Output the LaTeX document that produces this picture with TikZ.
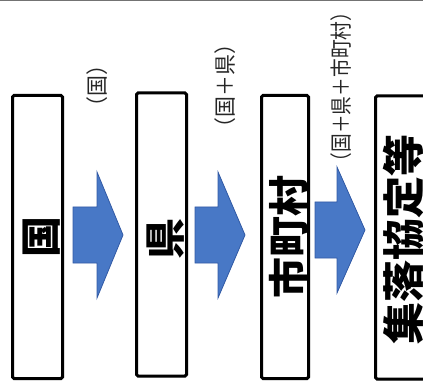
\documentclass[tikz,border=0pt]{standalone}
\usepackage{fontspec}
\newfontfamily\jpfont{Noto Sans CJK JP}
\usetikzlibrary{shadows}
\definecolor{arrowblue}{RGB}{72,120,198}
\definecolor{arrowedge}{RGB}{50,90,165}

\begin{document}
\begin{tikzpicture}[
  x=1pt, y=-1pt,
  panel/.style={draw=black, line width=3pt, rounded corners=1.5pt, fill=white,
    minimum width=50pt, minimum height=283pt, inner sep=0pt,
    drop shadow={opacity=0.2, shadow xshift=1.5pt, shadow yshift=-1.5pt}},
  bigtext/.style={rotate=90, inner sep=0pt, font=\jpfont\bfseries\fontsize{41}{41}\selectfont},
  costlabel/.style={rotate=90, inner sep=0pt, text=black!85, font=\jpfont\fontsize{22}{22}\selectfont},
  blockarrow/.style={fill=arrowblue, draw=arrowedge, line width=0.8pt, line join=miter}
]
  \useasboundingbox (0,0) rectangle (423,390);
  \clip (0,0) rectangle (423,390);
  \draw[black!55, line width=1.5pt] (0,0.75) -- (423,0.75);

  % panels
  \node[panel] (kuni) at (37.5,237) {};
  \node[panel] (ken) at (161.5,234.5) {};
  \node[panel, minimum width=47pt] (shichoson) at (285,237) {};
  \node[panel] (shuraku) at (400.5,237.5) {};

  \node[bigtext] (kunitext) at ([xshift=4.5pt]kuni.center) {国};
  \node[bigtext] (kentext) at ([xshift=4pt, yshift=-4pt]ken.center) {県};
  \node[bigtext] (shichosontext) at ([xshift=4pt]shichoson.center) {市町村};
  \node[bigtext, font=\jpfont\bfseries\fontsize{42}{42}\selectfont] (shurakutext) at ([xshift=2.5pt, yshift=-2pt]shuraku.center) {集落協定等};

  % arrows
  \foreach \sx/\hx/\tx/\cy in {73/97/123/235, 195/218/245/235, 315/337/365/230}
    \filldraw[blockarrow] (\sx,\cy-28) -- (\hx,\cy-28) -- (\hx,\cy-63) -- (\tx,\cy)
      -- (\hx,\cy+63) -- (\hx,\cy+28) -- (\sx,\cy+28) -- cycle;

  % who pays
  \node[costlabel] (kunicost) at (97.5,86) {\scalebox{0.95}[1]{（国）}};
  \node[costlabel] (kencost) at (225,86) {\scalebox{0.95}[1]{（国＋県）}};
  \node[costlabel] (shichosoncost) at (341,87) {\scalebox{0.85}[1]{（国＋県＋市町村）}};
\end{tikzpicture}
\end{document}
